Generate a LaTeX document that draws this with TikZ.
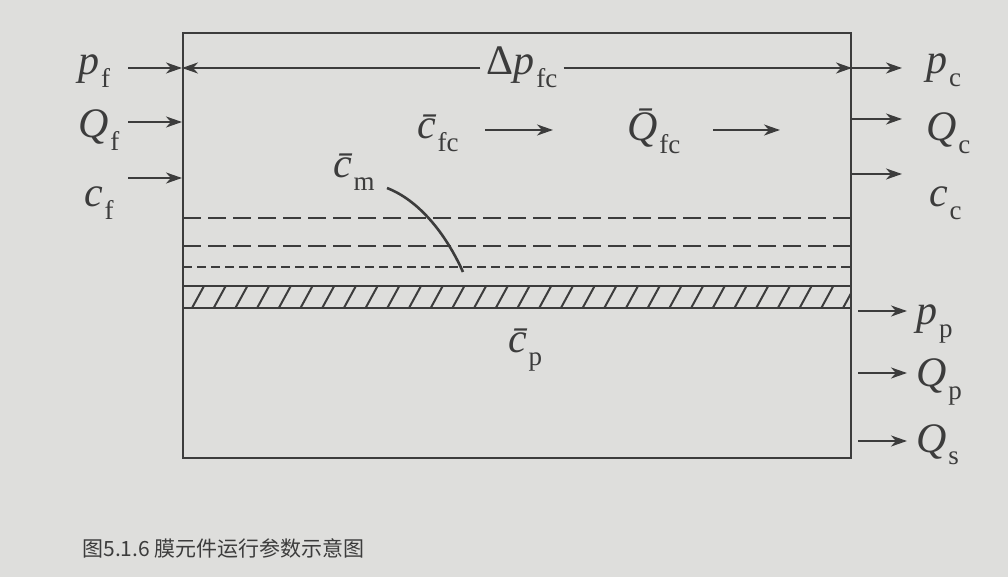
\documentclass[tikz,border=0pt]{standalone}
\usepackage{fontspec}
\setmainfont{Liberation Serif}
\newfontfamily\capfont{Noto Sans CJK SC}
\usetikzlibrary{arrows.meta}
\definecolor{bg}{RGB}{222,222,220}
\definecolor{ink}{RGB}{60,60,60}
\newcommand{\vlab}[2]{{\itshape #1}\kern0.04em\raisebox{-0.3em}{\fontsize{13.5}{14}\selectfont #2}}
\newcommand{\blab}[2]{{\itshape \=#1}\kern0.04em\raisebox{-0.3em}{\fontsize{13.5}{14}\selectfont #2}}
\tikzset{
  lab/.style={anchor=base west, inner sep=0pt, text=ink, font=\fontsize{21}{24}\selectfont},
  arr/.style={draw=ink, line width=1.2pt, -{Stealth[length=8pt,width=5.5pt,inset=2.5pt]}},
  frame/.style={draw=ink, line width=1.3pt},
  longdash/.style={draw=ink, line width=1.3pt, dash pattern=on 9pt off 3.5pt},
  shortdash/.style={draw=ink, line width=1.3pt, dash pattern=on 4.5pt off 2.5pt},
}
\begin{document}
\begin{tikzpicture}[x=0.5pt,y=-0.5pt]
\fill[bg] (0,0) rectangle (1008,577);
\useasboundingbox (0,0) rectangle (1008,577);

% box
\draw[frame] (183,33) rectangle (851,458);

% dashed layers
\draw[longdash] (183,218) -- (851,218);
\draw[longdash] (183,246) -- (851,246);
\draw[shortdash] (183,267) -- (851,267);

% hatched membrane
\begin{scope}
  \clip (183,286) rectangle (851,308);
  \foreach \k in {-1,...,31} {
    \draw[ink, line width=1pt] ({192+21.7*\k},308) -- ({204+21.7*\k},286);
  }
\end{scope}
\draw[frame] (183,286) -- (851,286);
\draw[frame] (183,308) -- (851,308);

% left inputs
\coordinate (pfs) at (128,68);  \coordinate (pfe) at (182,68);
\coordinate (Qfs) at (128,122); \coordinate (Qfe) at (182,122);
\coordinate (cfs) at (128,178); \coordinate (cfe) at (182,178);
\draw[arr] (pfs) -- (pfe);
\draw[arr] (Qfs) -- (Qfe);
\draw[arr] (cfs) -- (cfe);
\node[lab] (pf) at (78,75) {\vlab{p}{f}};
\node[lab] (Qf) at (78,138) {\vlab{Q}{f}};
\node[lab] (cf) at (84,207) {\vlab{c}{f}};

% right outputs (concentrate)
\coordinate (pcs) at (852,68);  \coordinate (pce) at (902,68);
\coordinate (Qcs) at (852,119); \coordinate (Qce) at (902,119);
\coordinate (ccs) at (852,174); \coordinate (cce) at (902,174);
\draw[arr] (pcs) -- (pce);
\draw[arr] (Qcs) -- (Qce);
\draw[arr] (ccs) -- (cce);
\node[lab] (pc) at (926,74) {\vlab{p}{c}};
\node[lab] (Qc) at (926,141) {\vlab{Q}{c}};
\node[lab] (cc) at (929,207) {\vlab{c}{c}};

% right outputs (permeate)
\coordinate (pps) at (858,311); \coordinate (ppe) at (907,311);
\coordinate (Qps) at (858,373); \coordinate (Qpe) at (907,373);
\coordinate (Qss) at (858,441); \coordinate (Qse) at (907,441);
\draw[arr] (pps) -- (ppe);
\draw[arr] (Qps) -- (Qpe);
\draw[arr] (Qss) -- (Qse);
\node[lab] (pp) at (916,325) {\vlab{p}{p}};
\node[lab] (Qp) at (916,387) {\vlab{Q}{p}};
\node[lab] (Qs) at (916,452) {\vlab{Q}{s}};

% pressure drop
\node[lab, anchor=base, inner sep=3pt] (dp) at (522,75) {Δ\vlab{p}{fc}};
\draw[arr] (dp.west |- pfe) -- (pfe);
\draw[arr] (dp.east |- pcs) -- (pcs);

% flow labels
\node[lab] (cfc) at (417,139) {\blab{c}{fc}};
\node[lab] (Qfc) at (627,141) {\blab{Q}{fc}};
\coordinate (a1s) at (485,130); \coordinate (a1e) at (553,130);
\coordinate (a2s) at (713,130); \coordinate (a2e) at (780,130);
\draw[arr] (a1s) -- (a1e);
\draw[arr] (a2s) -- (a2e);

% membrane surface concentration
\node[lab] (cm) at (333,178) {\blab{c}{m}};
\coordinate (cm1) at (387,188);
\coordinate (cm2) at (463,272);
\draw[ink, line width=1.3pt] (cm1) .. controls (418,200) and (445,232) .. (cm2);

% permeate concentration
\node[lab] (cp) at (508,353) {\blab{c}{p}};

% caption
\node[anchor=base west, inner sep=0pt, text=ink, font=\capfont\fontsize{10.5}{12}\selectfont] (cap) at (82,557) {图5.1.6 膜元件运行参数示意图};
\end{tikzpicture}
\end{document}
